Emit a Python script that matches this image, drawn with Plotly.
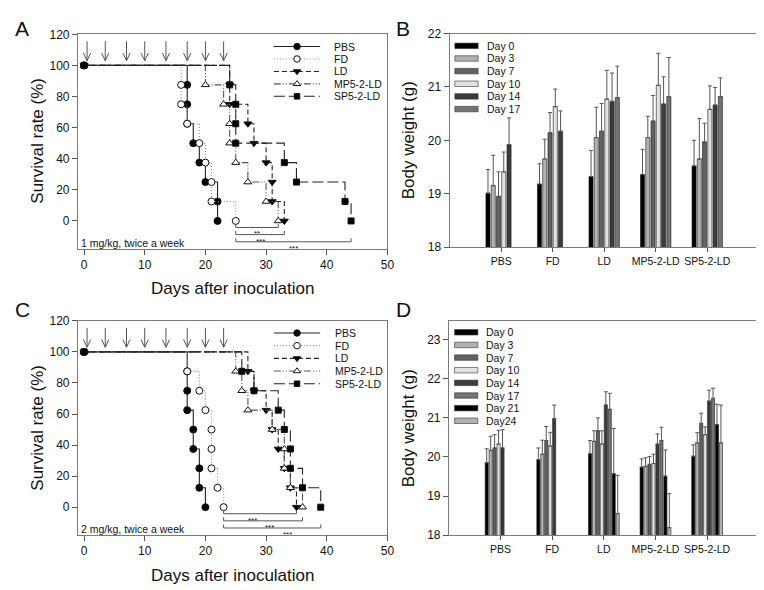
import plotly.graph_objects as go

W, H = 764, 590
FONT = "Arial, 'Liberation Sans', sans-serif"

# ---------------- data ----------------
GROUPS = ["PBS", "FD", "LD", "MP5-2-LD", "SP5-2-LD"]
SURV_STEPS = [87.5, 75, 62.5, 50, 37.5, 25, 12.5, 0]   # survival (%) after each death, n = 8

# Panel A (1 mg/kg): day of each death
A_PBS = [17, 17, 17, 18, 19, 20, 22, 22]
A_FD = [16, 16, 17, 19, 20, 21, 21, 25]
A_LD = [24, 24, 27, 28, 30, 31, 31, 33]
A_MP = [20, 23, 24, 24, 25, 27, 30, 32]
A_SP = [24, 25, 25, 25, 33, 35, 43, 44]

# Panel C (2 mg/kg): day of each death
C_PBS = [17, 17, 17, 18, 18, 19, 19, 20]
C_FD = [17, 19, 20, 21, 21, 21, 22, 23]
C_LD = [27, 28, 30, 31, 32, 33, 34, 35]
C_MP = [25, 26, 27, 31, 33, 33, 34, 36]
C_SP = [26, 28, 32, 33, 34, 34, 36, 39]

DOSE_DAYS = [0.5, 3.5, 7, 10, 13.5, 17, 20, 23]

A_SIG_START = 25
A_SIG_END = [32, 33, 44]
A_SIG_LABELS = ["**", "***", "***"]
C_SIG_START = 23
C_SIG_END = [35, 36, 39]
C_SIG_LABELS = ["***", "***", "***"]

# Panel B body weight (g), 1 mg/kg
B_DAYS = ["Day 0", "Day 3", "Day 7", "Day 10", "Day 14", "Day 17"]
B_DAY0 = [19.01, 19.18, 19.32, 19.36, 19.52]
B_DAY3 = [19.15, 19.65, 20.05, 20.05, 19.65]
B_DAY7 = [18.95, 20.14, 20.17, 20.36, 19.97]
B_DAY10 = [19.41, 20.63, 20.77, 21.03, 20.58]
B_DAY14 = [19.92, 20.17, 20.73, 20.68, 20.66]
B_DAY17 = [None, None, 20.80, 20.82, 20.82]
B_ERR0 = [0.44, 0.38, 0.49, 0.47, 0.48]
B_ERR3 = [0.57, 0.37, 0.57, 0.40, 0.76]
B_ERR7 = [0.46, 0.38, 0.52, 0.48, 0.35]
B_ERR10 = [0.37, 0.33, 0.54, 0.60, 0.44]
B_ERR14 = [0.50, 0.38, 0.53, 0.51, 0.33]
B_ERR17 = [None, None, 0.59, 0.73, 0.35]

# Panel D body weight (g), 2 mg/kg
D_DAYS = ["Day 0", "Day 3", "Day 7", "Day 10", "Day 14", "Day 17", "Day 21", "Day24"]
D_DAY0 = [19.85, 19.93, 20.08, 19.74, 20.02]
D_DAY3 = [20.17, 20.07, 20.40, 19.76, 20.36]
D_DAY7 = [20.23, 20.42, 20.67, 19.81, 20.86]
D_DAY10 = [20.33, 20.28, 20.33, 19.83, 20.57]
D_DAY14 = [20.23, 20.98, 21.33, 20.33, 21.43]
D_DAY17 = [None, None, 21.22, 20.42, 21.50]
D_DAY21 = [None, None, 19.57, 19.51, 20.83]
D_DAY24 = [None, None, 18.55, 18.19, 20.36]
D_ERR0 = [0.36, 0.30, 0.34, 0.21, 0.29]
D_ERR3 = [0.36, 0.36, 0.27, 0.22, 0.26]
D_ERR7 = [0.34, 0.36, 0.33, 0.20, 0.26]
D_ERR10 = [0.35, 0.35, 0.34, 0.24, 0.20]
D_ERR14 = [0.47, 0.35, 0.34, 0.26, 0.28]
D_ERR17 = [None, None, 0.41, 0.34, 0.26]
D_ERR21 = [None, None, 1.16, 0.67, 0.52]
D_ERR24 = [None, None, 0.98, 0.87, 0.97]

B_MEANS = [B_DAY0, B_DAY3, B_DAY7, B_DAY10, B_DAY14, B_DAY17]
B_ERRS = [B_ERR0, B_ERR3, B_ERR7, B_ERR10, B_ERR14, B_ERR17]
D_MEANS = [D_DAY0, D_DAY3, D_DAY7, D_DAY10, D_DAY14, D_DAY17, D_DAY21, D_DAY24]
D_ERRS = [D_ERR0, D_ERR3, D_ERR7, D_ERR10, D_ERR14, D_ERR17, D_ERR21, D_ERR24]

# ---------------- styles ----------------
BAR_COLORS = ["#000000", "#b2b2b2", "#626262", "#e2e2e2", "#3c3c3c", "#747474", "#000000", "#b2b2b2"]
SURV_STYLE = {
    "PBS": dict(dash="solid", lc="#222222", sym="circle", fill="#000000", size=7),
    "FD": dict(dash="1px,2px", lc="#8a8a8a", sym="circle", fill="#ffffff", size=7),
    "LD": dict(dash="5px,3px", lc="#222222", sym="triangle-down", fill="#000000", size=7),
    "MP5-2-LD": dict(dash="7px,2px,1px,2px,1px,2px", lc="#555555", sym="triangle-up", fill="#ffffff", size=7),
    "SP5-2-LD": dict(dash="11px,4px", lc="#222222", sym="square", fill="#000000", size=6),
}

fig = go.Figure()


def px_dom(a, b, total):
    return [a / total, b / total]


def py_dom(top, bottom):
    return [1 - bottom / H, 1 - top / H]


# panel geometry (pixels)
A_BOX = (70.6, 383.0, 19.3, 239.3)
C_BOX = (70.6, 383.0, 313.3, 532.3)
B_BOX = (445.7, 757.7, 19.0, 237.7)
D_BOX = (445.0, 757.7, 313.3, 532.7)


def surv_traces(days_list, xa, ya):
    for g, days in zip(GROUPS, days_list):
        s = SURV_STYLE[g]
        fig.add_trace(go.Scatter(
            x=[0] + days, y=[100] + SURV_STEPS, mode="lines+markers",
            line=dict(shape="hv", color=s["lc"], width=1.1, dash=s["dash"]),
            marker=dict(symbol=s["sym"], size=s["size"], color=s["fill"],
                        line=dict(color="#111111", width=1)),
            xaxis=xa, yaxis=ya, showlegend=False, hoverinfo="skip"))


surv_traces([A_PBS, A_FD, A_LD, A_MP, A_SP], "x", "y")
surv_traces([C_PBS, C_FD, C_LD, C_MP, C_SP], "x3", "y3")


def bar_traces(names, means, errs, xa, ya):
    for i, (nm, m, e) in enumerate(zip(names, means, errs)):
        fig.add_trace(go.Bar(
            x=GROUPS, y=m, name=nm,
            marker=dict(color=BAR_COLORS[i], line=dict(color="#1a1a1a", width=0.6)),
            error_y=dict(type="data", array=e, arrayminus=[0] * len(e), symmetric=False,
                         color="#555555", thickness=1, width=2),
            xaxis=xa, yaxis=ya, showlegend=False, hoverinfo="skip"))


bar_traces(B_DAYS, B_MEANS, B_ERRS, "x2", "y2")
bar_traces(D_DAYS, D_MEANS, D_ERRS, "x4", "y4")

shapes = []
annotations = []

# dosing arrows & significance brackets (label x-shift keeps the star labels apart)
for xa, ya, start, ends, labels, shifts in [
        ("x", "y", A_SIG_START, A_SIG_END, A_SIG_LABELS, [0, 0, 0]),
        ("x3", "y3", C_SIG_START, C_SIG_END, C_SIG_LABELS, [-1.2, 1.0, 2.5])]:
    for d in DOSE_DAYS:
        shapes.append(dict(type="path", xref=xa, yref=ya,
                           path=f"M {d},115.5 L {d},103 M {d-0.6},108 L {d},103 L {d+0.6},108",
                           line=dict(color="#555555", width=1)))
    levels = [-4.2, -8.8, -13.4]
    for end, lab, lv, sh in zip(ends, labels, levels, shifts):
        shapes.append(dict(type="path", xref=xa, yref=ya,
                           path=f"M {start},{lv+2.3} L {start},{lv} L {end},{lv} L {end},{lv+2.3}",
                           line=dict(color="#555555", width=1)))
        annotations.append(dict(x=(start + end) / 2 + sh, y=lv - 0.6, xref=xa, yref=ya, text=lab,
                                showarrow=False, font=dict(size=8, color="#111", family=FONT),
                                yanchor="top", borderpad=0))

# survival legends (overlay pixel axes x5/y5)
for rows, tx in [([32.3 + 12.75 * i for i in range(5)], 326.7),
                 ([325.7 + 13.0 * i for i in range(5)], 327.5)]:
    for g, ry in zip(GROUPS, rows):
        s = SURV_STYLE[g]
        fig.add_trace(go.Scatter(x=[268.3, 315.0], y=[ry, ry], mode="lines",
                                 line=dict(color=s["lc"], width=1.1, dash=s["dash"]),
                                 xaxis="x5", yaxis="y5", showlegend=False, hoverinfo="skip"))
        fig.add_trace(go.Scatter(x=[291.7], y=[ry], mode="markers",
                                 marker=dict(symbol=s["sym"], size=s["size"] - 0.5, color=s["fill"],
                                             line=dict(color="#111111", width=1)),
                                 xaxis="x5", yaxis="y5", showlegend=False, hoverinfo="skip"))
        annotations.append(dict(x=tx, y=ry, xref="x5", yref="y5", text=g, showarrow=False,
                                xanchor="left", yanchor="middle",
                                font=dict(size=10.5, color="#111", family=FONT)))

# bar legends
for names, y0, x0 in [(B_DAYS, 31.6, 451.0), (D_DAYS, 325.0, 450.7)]:
    for i, nm in enumerate(names):
        ry = y0 + 12.95 * i
        shapes.append(dict(type="rect", xref="x5", yref="y5", x0=x0, x1=x0 + 23.5,
                           y0=ry - 2.8, y1=ry + 2.8, fillcolor=BAR_COLORS[i],
                           line=dict(color="#333333", width=0.6)))
        annotations.append(dict(x=x0 + 30, y=ry, xref="x5", yref="y5", text=nm, showarrow=False,
                                xanchor="left", yanchor="middle",
                                font=dict(size=10.5, color="#111", family=FONT)))

# text labels
for txt, x, y in [("1 mg/kg, twice a week", 71.5, 233.5), ("2 mg/kg, twice a week", 72.0, 527.0)]:
    annotations.append(dict(x=x, y=y, xref="x5", yref="y5", text=txt, showarrow=False,
                            xanchor="left", yanchor="middle",
                            font=dict(size=10.5, color="#111", family=FONT)))

for txt, x, y in [("A", 5, 14), ("B", 390, 14), ("C", 5, 302), ("D", 390, 302)]:
    annotations.append(dict(x=x, y=y, xref="x5", yref="y5", text=txt, showarrow=False,
                            xanchor="left", yanchor="middle",
                            font=dict(size=21, color="#111", family=FONT)))

for txt, x, y, ang in [("Survival rate (%)", 30, 129, -90),
                       ("Days after inoculation", 227, 280, 0),
                       ("Body weight (g)", 405, 128, -90),
                       ("Survival rate (%)", 30, 423, -90),
                       ("Days after inoculation", 227, 574, 0),
                       ("Body weight (g)", 405, 423, -90)]:
    annotations.append(dict(x=x, y=y, xref="x5", yref="y5", text=txt, showarrow=False,
                            textangle=ang, xanchor="center", yanchor="middle",
                            font=dict(size=17, color="#111", family=FONT)))

axis_common = dict(showline=True, linecolor="#7a7a7a", linewidth=1, mirror=True,
                   ticks="outside", ticklen=5, tickcolor="#555555", showgrid=False,
                   zeroline=False, tickfont=dict(size=12, color="#111", family=FONT))

layout = dict(
    width=W, height=H, autosize=False,
    margin=dict(l=0, r=0, t=0, b=0),
    paper_bgcolor="white", plot_bgcolor="rgba(0,0,0,0)",
    barmode="group", bargap=0.387, bargroupgap=0.22,
    shapes=shapes, annotations=annotations,
    xaxis=dict(domain=px_dom(A_BOX[0], A_BOX[1], W), range=[-1, 50], tickvals=[0, 10, 20, 30, 40, 50],
               anchor="y", **axis_common),
    yaxis=dict(domain=py_dom(A_BOX[2], A_BOX[3]), range=[-17.8, 120.3],
               tickvals=[0, 20, 40, 60, 80, 100, 120], anchor="x", **axis_common),
    xaxis3=dict(domain=px_dom(C_BOX[0], C_BOX[1], W), range=[-1, 50], tickvals=[0, 10, 20, 30, 40, 50],
                anchor="y3", **axis_common),
    yaxis3=dict(domain=py_dom(C_BOX[2], C_BOX[3]), range=[-17.7, 120.0],
                tickvals=[0, 20, 40, 60, 80, 100, 120], anchor="x3", **axis_common),
    xaxis2=dict(domain=px_dom(B_BOX[0], B_BOX[1], W), range=[-1, 5], type="category",
                anchor="y2", **{**axis_common, "ticklen": 4,
                                "tickfont": dict(size=10.5, color="#111", family=FONT)}),
    yaxis2=dict(domain=py_dom(B_BOX[2], B_BOX[3]), range=[18, 22.0], tickvals=[18, 19, 20, 21, 22],
                anchor="x2", **axis_common),
    xaxis4=dict(domain=px_dom(D_BOX[0], D_BOX[1], W), range=[-1, 5], type="category",
                anchor="y4", **{**axis_common, "ticklen": 4,
                                "tickfont": dict(size=10.5, color="#111", family=FONT)}),
    yaxis4=dict(domain=py_dom(D_BOX[2], D_BOX[3]), range=[18, 23.485], tickvals=[18, 19, 20, 21, 22, 23],
                anchor="x4", **axis_common),
    xaxis5=dict(domain=[0, 1], range=[0, W], visible=False, anchor="y5", fixedrange=True),
    yaxis5=dict(domain=[0, 1], range=[H, 0], visible=False, anchor="x5", fixedrange=True),
)
fig.update_layout(**layout)
fig.write_html("out.html")
